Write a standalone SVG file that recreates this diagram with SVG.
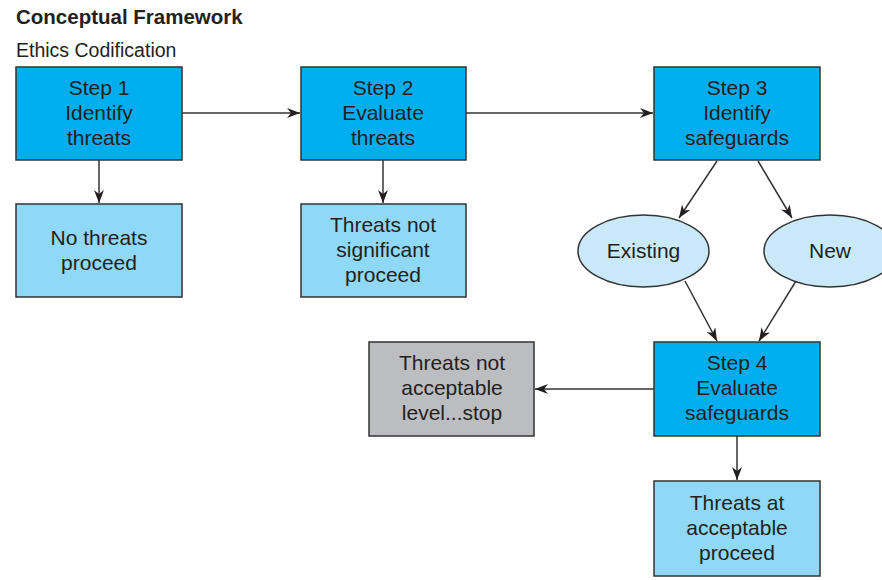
<svg xmlns="http://www.w3.org/2000/svg" width="882" height="580" viewBox="0 0 882 580">
<style>
text{font-family:"Liberation Sans",Arial,sans-serif;fill:#231f20}
.t{font-size:21px;text-anchor:middle}
.step{fill:#00aeef;stroke:#333;stroke-width:1.5}
.light{fill:#8fd8f6;stroke:#333;stroke-width:1.5}
.gray{fill:#bcbdc0;stroke:#333;stroke-width:1.5}
.ell{fill:#c9e9f8;stroke:#333;stroke-width:1.5}
.c{stroke:#333;stroke-width:1.5;fill:none;marker-end:url(#ah)}
</style>
<defs>
<marker id="ah" viewBox="0 0 13 10" refX="13" refY="5" markerWidth="13" markerHeight="10" markerUnits="userSpaceOnUse" orient="auto">
<path d="M0,0 L13,5 L0,10 L4,5 z" fill="#231f20"/>
</marker>
</defs>
<text x="16" y="24" style="font-size:20.5px;font-weight:bold">Conceptual Framework</text>
<text x="16" y="57" style="font-size:19.5px">Ethics Codification</text>
<g id="connectors">
<line class="c" x1="182" y1="113" x2="300" y2="113"/>
<line class="c" x1="466" y1="113" x2="653" y2="113"/>
<line class="c" x1="99" y1="160" x2="99" y2="203"/>
<line class="c" x1="383" y1="160" x2="383" y2="203"/>
<line class="c" x1="717" y1="161" x2="679" y2="218"/>
<line class="c" x1="758" y1="161" x2="792" y2="218"/>
<line class="c" x1="685" y1="281" x2="717" y2="341"/>
<line class="c" x1="796" y1="281" x2="759" y2="341"/>
<line class="c" x1="654" y1="389" x2="535" y2="389"/>
<line class="c" x1="737" y1="436" x2="737" y2="480"/>
</g>
<g id="step1"><rect class="step" x="16" y="67" width="166" height="93"/>
<text class="t" x="99" y="95">Step 1</text><text class="t" x="99" y="120">Identify</text><text class="t" x="99" y="145">threats</text></g>
<g id="step2"><rect class="step" x="301" y="67" width="165" height="93"/>
<text class="t" x="383" y="95">Step 2</text><text class="t" x="383" y="120">Evaluate</text><text class="t" x="383" y="145">threats</text></g>
<g id="step3"><rect class="step" x="654" y="67" width="166" height="93"/>
<text class="t" x="737" y="95">Step 3</text><text class="t" x="737" y="120">Identify</text><text class="t" x="737" y="145">safeguards</text></g>
<g id="nothreats"><rect class="light" x="16" y="204" width="166" height="93"/>
<text class="t" x="99" y="245">No threats</text><text class="t" x="99" y="270">proceed</text></g>
<g id="notsignificant"><rect class="light" x="301" y="204" width="165" height="93"/>
<text class="t" x="383" y="232">Threats not</text><text class="t" x="383" y="257">significant</text><text class="t" x="383" y="282">proceed</text></g>
<g id="existing"><ellipse class="ell" cx="643.5" cy="251" rx="65.5" ry="36"/>
<text class="t" x="643.5" y="258">Existing</text></g>
<g id="new"><ellipse class="ell" cx="830" cy="251" rx="66" ry="36"/>
<text class="t" x="830" y="258">New</text></g>
<g id="step4"><rect class="step" x="654" y="342" width="166" height="94"/>
<text class="t" x="737" y="370">Step 4</text><text class="t" x="737" y="395">Evaluate</text><text class="t" x="737" y="420">safeguards</text></g>
<g id="stop"><rect class="gray" x="369" y="342" width="165" height="94"/>
<text class="t" x="452" y="370">Threats not</text><text class="t" x="452" y="395">acceptable</text><text class="t" x="452" y="420">level...stop</text></g>
<g id="acceptable"><rect class="light" x="654" y="481" width="166" height="95"/>
<text class="t" x="737" y="510">Threats at</text><text class="t" x="737" y="535">acceptable</text><text class="t" x="737" y="560">proceed</text></g>
</svg>
